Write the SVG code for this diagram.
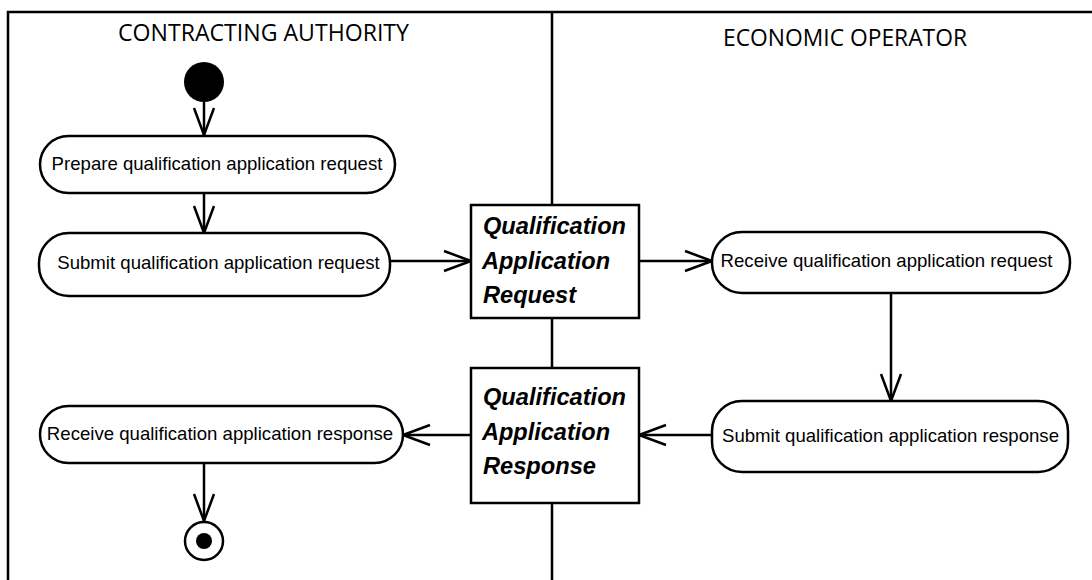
<svg xmlns="http://www.w3.org/2000/svg" width="1092" height="580" viewBox="0 0 1092 580">
  <defs>
    <marker id="arr" markerUnits="userSpaceOnUse" markerWidth="32" markerHeight="26" viewBox="0 0 32 26" refX="29" refY="13" orient="auto">
      <path d="M2,3 L29,13 L2,23" fill="none" stroke="#000" stroke-width="2.5"/>
    </marker>
  </defs>
  <style>
    .frame { fill: none; stroke: #000; stroke-width: 2.5; }
    .line { fill: none; stroke: #000; stroke-width: 2.5; }
    .act { fill: #fff; stroke: #000; stroke-width: 2.5; }
    .obj { fill: #fff; stroke: #000; stroke-width: 2.5; }
    .lane { font-family: "Open Sans", "Liberation Sans", sans-serif; font-size: 23px; fill: #000; }
    .atext { font-family: "Liberation Sans", Arial, sans-serif; font-size: 18.6px; fill: #000; text-anchor: middle; }
    .otext { font-family: "Liberation Sans", Arial, sans-serif; font-size: 23px; font-weight: bold; font-style: italic; fill: #000; }
  </style>
  <rect width="1092" height="580" fill="#fff"/>

  <g id="swimlanes">
    <path class="frame" d="M8,580 L8,12 L1092,12"/>
    <line class="frame" x1="552" y1="12" x2="552" y2="580"/>
    <text class="lane" x="118" y="41" textLength="291" lengthAdjust="spacingAndGlyphs">CONTRACTING AUTHORITY</text>
    <text class="lane" x="723" y="46" textLength="244" lengthAdjust="spacingAndGlyphs">ECONOMIC OPERATOR</text>
  </g>

  <g id="connectors">
    <line class="line" x1="204" y1="102" x2="204" y2="135" marker-end="url(#arr)"/>
    <line class="line" x1="204" y1="193" x2="204" y2="233" marker-end="url(#arr)"/>
    <line class="line" x1="390" y1="261" x2="471" y2="261" marker-end="url(#arr)"/>
    <line class="line" x1="639" y1="261" x2="712" y2="261" marker-end="url(#arr)"/>
    <line class="line" x1="891" y1="293" x2="891" y2="401" marker-end="url(#arr)"/>
    <line class="line" x1="712" y1="435" x2="639" y2="435" marker-end="url(#arr)"/>
    <line class="line" x1="471" y1="435" x2="403" y2="435" marker-end="url(#arr)"/>
    <line class="line" x1="204" y1="463" x2="204" y2="521" marker-end="url(#arr)"/>
  </g>

  <g id="start">
    <circle cx="204" cy="82" r="20" fill="#000"/>
  </g>

  <g id="prepare-request">
    <rect class="act" x="40" y="136" width="355" height="57" rx="28.5" ry="28.5"/>
    <text class="atext" x="217" y="170">Prepare qualification application request</text>
  </g>

  <g id="submit-request">
    <rect class="act" x="39" y="233" width="351" height="63" rx="30" ry="30"/>
    <text class="atext" x="218.5" y="269">Submit qualification application request</text>
  </g>

  <g id="object-request">
    <rect class="obj" x="471" y="205" width="168" height="113"/>
    <text class="otext" x="483" y="234" textLength="143" lengthAdjust="spacingAndGlyphs">Qualification</text>
    <text class="otext" x="482" y="269" textLength="128" lengthAdjust="spacingAndGlyphs">Application</text>
    <text class="otext" x="483" y="303" textLength="93" lengthAdjust="spacingAndGlyphs">Request</text>
  </g>

  <g id="receive-request">
    <rect class="act" x="712" y="232" width="358" height="61" rx="30" ry="30"/>
    <text class="atext" x="886.5" y="267">Receive qualification application request</text>
  </g>

  <g id="submit-response">
    <rect class="act" x="712" y="401" width="356" height="71" rx="30" ry="30"/>
    <text class="atext" x="890.5" y="442">Submit qualification application response</text>
  </g>

  <g id="object-response">
    <rect class="obj" x="471" y="368" width="168" height="135"/>
    <text class="otext" x="483" y="405" textLength="143" lengthAdjust="spacingAndGlyphs">Qualification</text>
    <text class="otext" x="482" y="440" textLength="128" lengthAdjust="spacingAndGlyphs">Application</text>
    <text class="otext" x="483" y="474" textLength="113" lengthAdjust="spacingAndGlyphs">Response</text>
  </g>

  <g id="receive-response">
    <rect class="act" x="40" y="406" width="363" height="57" rx="28.5" ry="28.5"/>
    <text class="atext" x="220" y="440">Receive qualification application response</text>
  </g>

  <g id="end">
    <circle cx="204" cy="541" r="19" fill="#fff" stroke="#000" stroke-width="2.5"/>
    <circle cx="204" cy="541" r="8" fill="#000"/>
  </g>
</svg>
